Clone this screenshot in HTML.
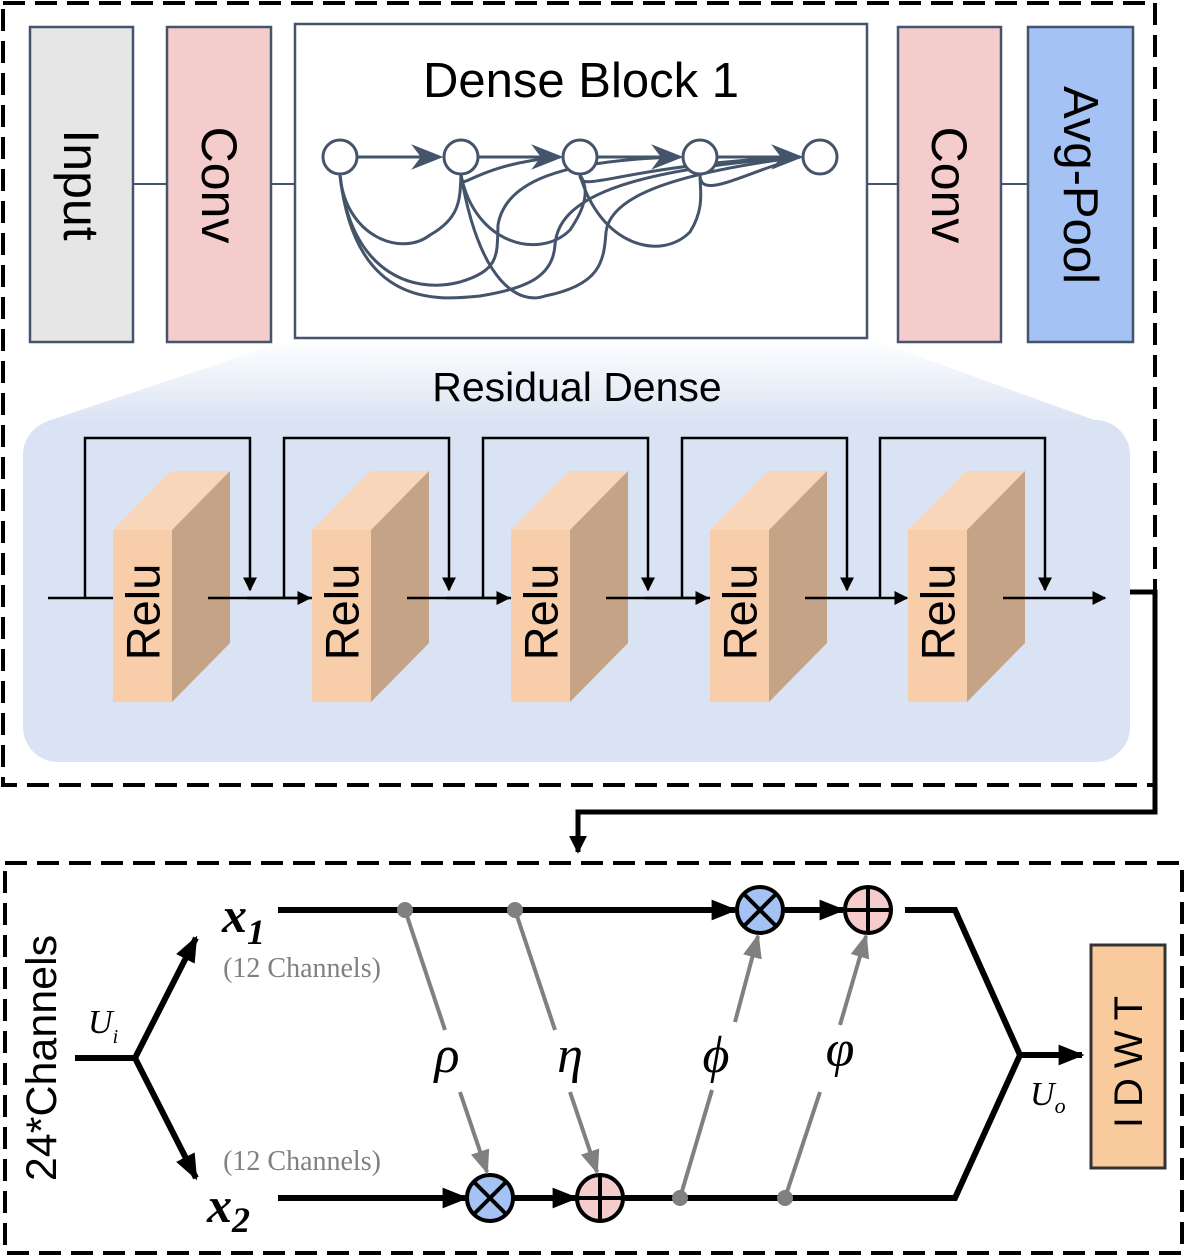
<!DOCTYPE html>
<html><head><meta charset="utf-8"><style>body{margin:0;background:#fff}svg{display:block}</style></head><body>
<svg width="1185" height="1257" viewBox="0 0 1185 1257" xmlns="http://www.w3.org/2000/svg" font-family="Liberation Sans, DejaVu Sans, sans-serif">
<defs>
<marker id="a1" viewBox="0 0 10 10" markerWidth="14" markerHeight="14" refX="9" refY="5" orient="auto" markerUnits="userSpaceOnUse"><path d="M0,0 L10,5 L0,10z" fill="#000"/></marker>
<marker id="a2" viewBox="0 0 10 10" markerWidth="18" markerHeight="18" refX="9" refY="5" orient="auto" markerUnits="userSpaceOnUse"><path d="M0,0 L10,5 L0,10z" fill="#000"/></marker>
<marker id="ak" viewBox="0 0 10 10" markerWidth="26" markerHeight="26" refX="9" refY="5" orient="auto" markerUnits="userSpaceOnUse"><path d="M0,1 L10,5 L0,9z" fill="#000"/></marker>
<marker id="ag" viewBox="0 0 10 10" markerWidth="24" markerHeight="24" refX="9" refY="5" orient="auto" markerUnits="userSpaceOnUse"><path d="M0,1 L10,5 L0,9z" fill="#808080"/></marker>
<marker id="ad" viewBox="0 0 10 10" markerWidth="32" markerHeight="32" refX="9" refY="5" orient="auto" markerUnits="userSpaceOnUse"><path d="M0,1 L10,5 L0,9 L3,5z" fill="#44546a"/></marker>
<linearGradient id="tg" x1="0" y1="0" x2="0" y2="1"><stop offset="0" stop-color="#fff"/><stop offset="1" stop-color="#dae3f3"/></linearGradient>
</defs>
<rect x="3" y="3" width="1152" height="782" fill="none" stroke="#000" stroke-width="4" stroke-dasharray="22,10"/>
<rect x="5" y="863" width="1177" height="390" fill="none" stroke="#000" stroke-width="4" stroke-dasharray="22,10"/>
<line x1="133" y1="184" x2="167" y2="184" stroke="#44546a" stroke-width="2"/>
<line x1="271" y1="184" x2="295" y2="184" stroke="#44546a" stroke-width="2"/>
<line x1="867" y1="184" x2="898" y2="184" stroke="#44546a" stroke-width="2"/>
<line x1="1001" y1="184" x2="1028" y2="184" stroke="#44546a" stroke-width="2"/>
<rect x="30" y="27" width="103" height="315" fill="#e6e6e6" stroke="#44546a" stroke-width="2.5"/>
<rect x="167" y="27" width="104" height="315" fill="#f4cccc" stroke="#44546a" stroke-width="2.5"/>
<rect x="898" y="27" width="103" height="315" fill="#f4cccc" stroke="#44546a" stroke-width="2.5"/>
<rect x="1028" y="27" width="105" height="315" fill="#a4c2f4" stroke="#44546a" stroke-width="2.5"/>
<text transform="translate(81,185) rotate(90)" font-size="50" text-anchor="middle" dominant-baseline="central">Input</text>
<text transform="translate(219,185) rotate(90)" font-size="50" text-anchor="middle" dominant-baseline="central">Conv</text>
<text transform="translate(949,185) rotate(90)" font-size="50" text-anchor="middle" dominant-baseline="central">Conv</text>
<text transform="translate(1080,185) rotate(90)" font-size="49" text-anchor="middle" dominant-baseline="central">Avg-Pool</text>
<polygon points="295,338 867,338 1100,422 45,422" fill="url(#tg)"/>
<rect x="295" y="24" width="572" height="314" fill="#fff" stroke="#44546a" stroke-width="2.5"/>
<text x="581" y="97" font-size="49" text-anchor="middle">Dense Block 1</text>
<g fill="none" stroke="#44546a" stroke-width="3">
<path d="M358,157 H440" marker-end="url(#ad)"/>
<path d="M479,157 H560" marker-end="url(#ad)"/>
<path d="M598,157 H680" marker-end="url(#ad)"/>
<path d="M718,157 H800" marker-end="url(#ad)"/>
<path d="M340,175 C345,235 400,258 430,235 C460,218 460,200 461,175"/>
<path d="M461,175 C475,245 540,260 570,230 C585,208 590,190 580,175"/>
<path d="M580,175 C600,245 660,262 690,232 C705,208 700,190 700,175"/>
<path d="M340,175 C350,270 410,295 460,282 C500,270 497,255 498,225 C505,182 560,160 680,157"/>
<path d="M340,175 C355,310 440,300 480,296 C530,288 553,275 555,245 C558,200 620,170 800,157"/>
<path d="M461,175 C480,285 520,305 545,296 C600,285 604,262 606,232 C610,200 660,175 800,157"/>
<path d="M461,175 C460,195 470,165 560,157"/>
<path d="M580,175 C580,195 620,165 800,157"/>
<path d="M700,175 C700,200 740,175 800,157"/>
</g>
<g fill="#fff" stroke="#44546a" stroke-width="3">
<circle cx="340" cy="157" r="17"/><circle cx="461" cy="157" r="17"/><circle cx="580" cy="157" r="17"/><circle cx="700" cy="157" r="17"/><circle cx="820" cy="157" r="17"/>
</g>
<text x="577" y="401" font-size="41" text-anchor="middle">Residual Dense</text>
<rect x="23" y="420" width="1107" height="342" rx="35" fill="#dae3f3"/>
<g id="rb">
<path d="M85,598 V438 H250 V590" fill="none" stroke="#000" stroke-width="2.5" marker-end="url(#a1)"/>
<line x1="48" y1="598" x2="113" y2="598" stroke="#000" stroke-width="2.5"/>
<polygon points="113,530 172,530 230,471 171,471" fill="#f8d6ba"/>
<polygon points="172,530 230,471 230,643 172,702" fill="#c5a386"/>
<rect x="113" y="530" width="59" height="172" fill="#f8cdaa"/>
<text transform="translate(143,612) rotate(-90)" font-size="47" text-anchor="middle" dominant-baseline="central">Relu</text>
<line x1="208" y1="598" x2="310" y2="598" stroke="#000" stroke-width="2.5" marker-end="url(#a1)"/>
</g>
<use href="#rb" transform="translate(199,0)"/>
<use href="#rb" transform="translate(398,0)"/>
<use href="#rb" transform="translate(597,0)"/>
<g transform="translate(795,0)">
<path d="M85,598 V438 H250 V590" fill="none" stroke="#000" stroke-width="2.5" marker-end="url(#a1)"/>
<polygon points="113,530 172,530 230,471 171,471" fill="#f8d6ba"/>
<polygon points="172,530 230,471 230,643 172,702" fill="#c5a386"/>
<rect x="113" y="530" width="59" height="172" fill="#f8cdaa"/>
<text transform="translate(143,612) rotate(-90)" font-size="47" text-anchor="middle" dominant-baseline="central">Relu</text>
<line x1="208" y1="598" x2="310" y2="598" stroke="#000" stroke-width="2.5" marker-end="url(#a1)"/>
</g>
<path d="M1130,592 H1155 V812 H578 V852" fill="none" stroke="#000" stroke-width="5" marker-end="url(#a2)"/>
<text transform="translate(42,1058) rotate(-90)" font-size="43" text-anchor="middle" dominant-baseline="central">24*Channels</text>
<g stroke="#000" stroke-width="6" fill="none">
<path d="M75,1058 H135"/>
<path d="M135,1058 L196,938" marker-end="url(#ak)"/>
<path d="M135,1058 L196,1178" marker-end="url(#ak)"/>
<path d="M278,910 H735" marker-end="url(#ak)"/>
<path d="M783,910 H843" marker-end="url(#ak)"/>
<path d="M905,910 H955 L1020,1055 L955,1198 H278"/>
<path d="M278,1198 H466" marker-end="url(#ak)"/>
<path d="M514,1198 H576" marker-end="url(#ak)"/>
<path d="M1020,1055 H1082" marker-end="url(#ak)"/>
</g>
<g fill="#a4c2f4" stroke="#000" stroke-width="4">
<circle cx="760" cy="910" r="23"/><circle cx="490" cy="1198" r="23"/></g>
<g fill="#f4cccc" stroke="#000" stroke-width="4">
<circle cx="868" cy="910" r="23"/><circle cx="600" cy="1198" r="23"/></g>
<g stroke="#000" stroke-width="4">
<path d="M744,894 L776,926 M776,894 L744,926 M474,1182 L506,1214 M506,1182 L474,1214"/>
<path d="M868,887 V933 M845,910 H891 M600,1175 V1221 M577,1198 H623"/>
</g>
<g stroke="#808080" stroke-width="4" fill="none">
<path d="M405,910 L445,1030"/><path d="M460,1092 L487,1172" marker-end="url(#ag)"/>
<path d="M515,910 L555,1030"/><path d="M570,1092 L597,1172" marker-end="url(#ag)"/>
<path d="M680,1198 L712,1090"/><path d="M735,1022 L758,936" marker-end="url(#ag)"/>
<path d="M785,1198 L820,1092"/><path d="M840,1025 L866,936" marker-end="url(#ag)"/>
</g>
<g fill="#808080"><circle cx="405" cy="910" r="8"/><circle cx="515" cy="910" r="8"/><circle cx="680" cy="1198" r="8"/><circle cx="785" cy="1198" r="8"/></g>
<g font-family="Liberation Serif, serif" font-style="italic">
<text x="222" y="932" font-size="50" font-weight="bold">x<tspan font-size="36" dy="12">1</tspan></text>
<text x="207" y="1222" font-size="50" font-weight="bold">x<tspan font-size="36" dy="10">2</tspan></text>
<text x="88" y="1033" font-size="34">U<tspan font-size="20" dy="10">i</tspan></text>
<text x="1030" y="1105" font-size="34">U<tspan font-size="22" dy="8">o</tspan></text>
<text x="447" y="1072" font-size="52" text-anchor="middle">ρ</text>
<text x="570" y="1072" font-size="52" text-anchor="middle">η</text>
<text x="716" y="1072" font-size="52" text-anchor="middle">ϕ</text>
<text x="840" y="1066" font-size="52" text-anchor="middle">φ</text>
</g>
<text x="302" y="977" font-family="Liberation Serif, serif" font-size="28" fill="#808080" text-anchor="middle">(12 Channels)</text>
<text x="302" y="1170" font-family="Liberation Serif, serif" font-size="28" fill="#808080" text-anchor="middle">(12 Channels)</text>
<rect x="1091" y="945" width="74" height="223" fill="#f9cb9c" stroke="#333" stroke-width="3"/>
<text transform="translate(1129,1057) rotate(-90)" font-size="40" text-anchor="middle" dominant-baseline="central" letter-spacing="10">IDWT</text>
</svg>
</body></html>
